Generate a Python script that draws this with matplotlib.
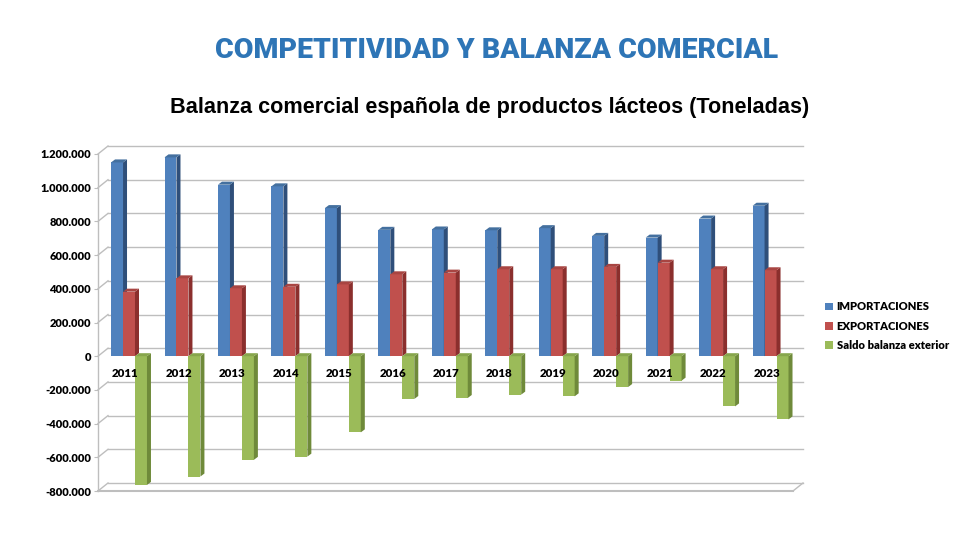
import matplotlib
matplotlib.use("Agg")
import matplotlib.pyplot as plt
from matplotlib.patches import Polygon, Patch
from matplotlib import font_manager

# Data (toneladas)
years = [2011, 2012, 2013, 2014, 2015, 2016, 2017, 2018, 2019, 2020, 2021, 2022, 2023]
importaciones = [1150000, 1180000, 1018000, 1008000, 879000, 750000, 752000,
                 747000, 760000, 714000, 704000, 817000, 893000]
exportaciones = [383000, 462000, 403000, 412000, 426000, 486000, 496000,
                 516000, 516000, 530000, 555000, 516000, 510000]
saldo = [-764000, -714000, -615000, -596000, -452000, -254000, -248000,
         -228000, -238000, -183000, -145000, -298000, -375000]
series_names = ["IMPORTACIONES", "EXPORTACIONES", "Saldo balanza exterior"]

yticks = [-800000, -600000, -400000, -200000, 0, 200000, 400000, 600000,
          800000, 1000000, 1200000]
ytick_labels = ["-800.000", "-600.000", "-400.000", "-200.000", "0", "200.000",
                "400.000", "600.000", "800.000", "1.000.000", "1.200.000"]

# colours: front, side, top
colors = [("#4F81BD", "#2F4F7A", "#44709F"),
          ("#C0504D", "#8B2F2D", "#A84542"),
          ("#9BBB59", "#6F8A3A", "#87A64C")]
grid_color = "#BEBEBE"

names = {f.name for f in font_manager.fontManager.ttflist}
title_font = "Liberation Sans Narrow" if "Liberation Sans Narrow" in names else "Roboto"
label_font = "Lato"
label_weight = "heavy"

fig = plt.figure(figsize=(9.8, 5.6), dpi=100)
ax = fig.add_axes([98 / 980, 69 / 560, 695 / 980, 337 / 560])
ax.set_xlim(-0.58, 12.42)
ax.set_ylim(-800000, 1200000)
for sp in ax.spines.values():
    sp.set_visible(False)
ax.set_xticks([])
ax.set_yticks(yticks, ytick_labels)
ax.tick_params(axis="y", length=3, color=grid_color, pad=2)
for lab in ax.get_yticklabels():
    lab.set_fontfamily(label_font)
    lab.set_fontweight(label_weight)
    lab.set_fontsize(8)

# data units per pixel, for the fake 3D depth
p = ax.transData.transform([(0, 0), (1, 1)])
sx, sy = p[1, 0] - p[0, 0], p[1, 1] - p[0, 1]
wdx, wdy = 10 / sx, 8 / sy   # back wall offset
bdx, bdy = 4 / sx, 3 / sy    # bar depth

x0, x1 = ax.get_xlim()
# back wall gridlines + left wall diagonals
for v in yticks:
    ax.plot([x0 + wdx, x1 + wdx], [v + wdy, v + wdy], color=grid_color, lw=1.0,
            clip_on=False, zorder=0)
    ax.plot([x0, x0 + wdx], [v, v + wdy], color=grid_color, lw=1.0,
            clip_on=False, zorder=0)
# left edge and floor front
ymin = yticks[0]
ax.plot([x0, x0], [ymin, yticks[-1]], color=grid_color, lw=1.0, clip_on=False, zorder=0)
ax.plot([x0, x1], [ymin, ymin], color=grid_color, lw=1.5, clip_on=False, zorder=0)
ax.plot([x1, x1 + wdx], [ymin, ymin + wdy], color=grid_color, lw=1.0, clip_on=False, zorder=0)

w = 0.224
offsets = [-w, 0, w]
n = len(years)
xs = list(range(n))
for k, vals in enumerate([importaciones, exportaciones, saldo]):
    front, side, top = colors[k]
    bars = ax.bar([x + offsets[k] for x in xs], vals, width=w, color=front,
                  label=series_names[k])
    for i, rect in enumerate(bars.patches):
        z = 2 + i * 3 + k
        rect.set_zorder(z)
        bx0 = rect.get_x()
        bx1 = bx0 + rect.get_width()
        ya = rect.get_y()
        yb = ya + rect.get_height()
        ytop, ybot = max(ya, yb), min(ya, yb)
        ax.add_patch(Polygon([(bx1, ybot), (bx1, ytop), (bx1 + bdx, ytop + bdy),
                              (bx1 + bdx, ybot + bdy)], closed=True,
                             facecolor=side, edgecolor="none", zorder=z))
        ax.add_patch(Polygon([(bx0, ytop), (bx1, ytop), (bx1 + bdx, ytop + bdy),
                              (bx0 + bdx, ytop + bdy)], closed=True,
                             facecolor=top, edgecolor="none", zorder=z))

# year labels sit between 0 and -200.000
for i, yr in enumerate(years):
    ax.text(i - 0.07, -100000, str(yr), ha="center", va="center",
            fontsize=8.3, fontweight=label_weight, family=label_font, zorder=100)

handles = [Patch(facecolor=c[0]) for c in colors]
fig.legend(handles, series_names, loc="upper left",
           bbox_to_anchor=(821 / 980, 1 - 297 / 560), frameon=False,
           prop={"family": label_font, "weight": label_weight, "size": 8},
           handlelength=0.7, handleheight=0.7, handletextpad=0.3,
           labelspacing=0.75, borderaxespad=0)

fig.text(497 / 980, 1 - 51 / 560, "COMPETITIVIDAD Y BALANZA COMERCIAL",
         ha="center", va="center", fontsize=20.5, fontweight="black",
         color="#2E75B6", family=title_font)
fig.text(490 / 980, 1 - 108 / 560,
         "Balanza comercial española de productos lácteos (Toneladas)",
         ha="center", va="center", fontsize=15.6, fontweight="bold",
         family="Liberation Sans")

fig.savefig("out.png", dpi=100)
